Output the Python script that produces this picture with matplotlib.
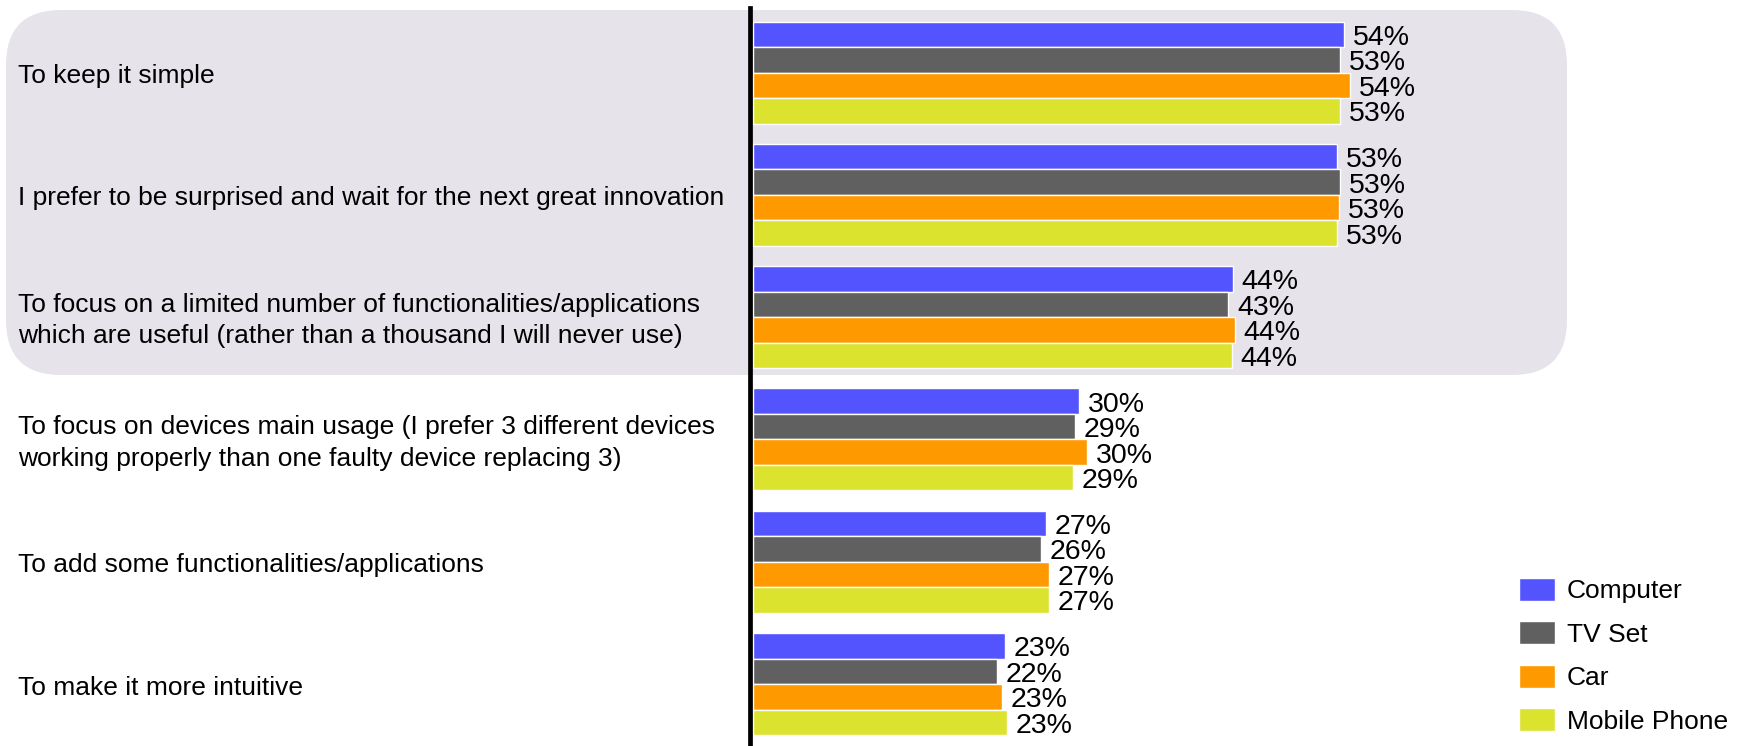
import numpy as np
import matplotlib.pyplot as plt
from matplotlib.patches import FancyBboxPatch, Patch
from matplotlib.transforms import IdentityTransform, blended_transform_factory

plt.rcParams['font.family'] = ['Liberation Sans', 'DejaVu Sans']

# respuestas (de arriba hacia abajo)
categorias = [
    "To keep it simple",
    "I prefer to be surprised and wait for the next great innovation",
    "To focus on a limited number of functionalities/applications\nwhich are useful (rather than a thousand I will never use)",
    "To focus on devices main usage (I prefer 3 different devices\nworking properly than one faulty device replacing 3)",
    "To add some functionalities/applications",
    "To make it more intuitive",
]
series = ["Computer", "TV Set", "Car", "Mobile Phone"]
colores = ["#5454FF", "#606060", "#FF9900", "#DBE32F"]

computer = [53.7, 53.1, 43.6, 29.6, 26.6, 22.9]
tv_set = [53.4, 53.4, 43.2, 29.3, 26.2, 22.2]
car = [54.3, 53.3, 43.8, 30.4, 26.9, 22.6]
mobile = [53.4, 53.1, 43.5, 29.1, 26.9, 23.1]
valores = [computer, tv_set, car, mobile]

W, H = 1742, 746
fig = plt.figure(figsize=(W/100, H/100), dpi=100)
x0 = 753
ax = fig.add_axes([x0/W, 0, 1 - x0/W, 1])
ax.patch.set_visible(False)

# escala: ~11 px por punto porcentual, ~122 px entre grupos
paso = 122.3
ax.set_xlim(0, (W - x0)/11.0)
ax.set_ylim(5 + (H - 72.5 - 5*paso)/paso, -72.5/paso)

h = 25.5/paso
dy = 3.5/paso  # bajar un poco los textos
y = np.arange(len(categorias))
for j, (nombre, vals) in enumerate(zip(series, valores)):
    yy = y + (j - 1.5)*h
    ax.barh(yy, vals, height=h, color=colores[j], edgecolor='white', linewidth=1, zorder=2)
    for yi, v in zip(yy, vals):
        ax.text(v + 0.8, yi + dy, f"{v:.0f}%", va='center', ha='left', fontsize=20.5, zorder=3)

ax.axvline(-0.23, ymin=0, ymax=1 - 8/H, color='black', lw=3.4, clip_on=False, zorder=4)

for s in ax.spines.values():
    s.set_visible(False)
ax.set_xticks([])
ax.set_yticks([])

# etiquetas de las categorias
tr = blended_transform_factory(fig.transFigure, ax.transData)
for yi, c in zip(y, categorias):
    ax.text(18/W, yi + dy, c, transform=tr, va='center', ha='left', fontsize=19,
            linespacing=1.4, clip_on=False)

# recuadro gris de las tres primeras respuestas
caja = FancyBboxPatch((6, H - 375), 1561, 365, boxstyle="round,pad=0,rounding_size=55",
                      transform=IdentityTransform(), facecolor="#E6E3EB", edgecolor='none', zorder=-1)
fig.add_artist(caja)

handles = [Patch(facecolor=c, edgecolor='white', label=s) for s, c in zip(series, colores)]
fig.legend(handles=handles, loc='upper left', bbox_to_anchor=(1519/W, 1 - 578/H),
           frameon=False, fontsize=19, handlelength=1.36, handleheight=0.95,
           labelspacing=0.68, handletextpad=0.45, borderpad=0, borderaxespad=0)

plt.savefig('out.png', dpi=100)
